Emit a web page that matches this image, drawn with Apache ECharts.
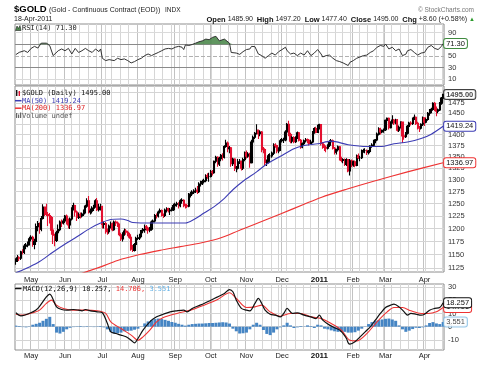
<!DOCTYPE html>
<html><head><meta charset="utf-8">
<script src="https://cdn.jsdelivr.net/npm/echarts@6/dist/echarts.min.js"></script>
<style>html,body{margin:0;padding:0;background:#fff}#c{width:482px;height:370px}</style>
</head><body><div id="c"></div>
<script>
// ---------- data ----------
const startDate = '2010-04-20', endDate = '2011-04-18';
const holidays = ['2010-05-31','2010-07-05','2010-09-06','2010-11-25','2010-12-24','2011-01-17','2011-02-21'];
const monthNames = ['Jan','Feb','Mar','Apr','May','Jun','Jul','Aug','Sep','Oct','Nov','Dec'];
// daily bars: [open, high, low, close]
const priceBars = [
[1137,1143,1131,1140],[1140,1149,1136,1144],[1144,1147,1138,1143],[1143,1157,1140,1155],[1155,1160,1150,1154],
[1154,1170,1151,1166],[1166,1172,1160,1168],[1168,1175,1164,1169],[1169,1184,1167,1180],[1180,1187,1175,1183],
[1183,1186,1165,1169],[1169,1180,1160,1175],[1175,1210,1172,1204],[1204,1215,1195,1210],[1210,1212,1190,1199],
[1199,1225,1195,1220],[1220,1249,1218,1243],[1243,1244,1225,1230],[1230,1250,1225,1228],[1228,1233,1205,1226],
[1226,1231,1210,1222],[1222,1225,1188,1197],[1197,1200,1170,1187],[1187,1190,1166,1177],[1177,1196,1174,1192],
[1192,1208,1186,1198],[1198,1216,1195,1213],[1213,1218,1203,1211],[1211,1220,1208,1215],[1215,1227,1211,1225],
[1225,1228,1208,1217],[1217,1220,1200,1207],[1207,1222,1199,1219],[1219,1243,1216,1240],[1240,1252,1236,1246],
[1246,1248,1224,1233],[1233,1236,1215,1222],[1222,1232,1219,1228],[1228,1232,1220,1225],[1225,1232,1222,1229],
[1229,1238,1225,1233],[1233,1248,1230,1245],[1245,1261,1242,1256],[1256,1266,1230,1233],[1233,1240,1228,1235],
[1235,1245,1230,1241],[1241,1248,1235,1244],[1244,1259,1242,1256],[1256,1262,1235,1238],[1238,1250,1234,1243],
[1243,1250,1236,1244],[1244,1246,1200,1208],[1208,1214,1200,1210],[1210,1213,1190,1195],[1195,1200,1188,1194],
[1194,1208,1190,1205],[1205,1214,1200,1209],[1209,1212,1195,1198],[1198,1216,1196,1213],[1213,1216,1205,1211],
[1211,1214,1203,1207],[1207,1210,1185,1188],[1188,1192,1176,1180],[1180,1193,1175,1191],[1191,1200,1186,1195],
[1195,1199,1188,1193],[1193,1196,1185,1188],[1188,1192,1180,1183],[1183,1186,1157,1160],[1160,1168,1155,1158],
[1158,1172,1156,1169],[1169,1184,1165,1181],[1181,1188,1178,1182],[1182,1190,1178,1185],[1185,1198,1183,1196],
[1196,1201,1191,1198],[1198,1208,1192,1204],[1204,1207,1196,1201],[1201,1204,1190,1197],[1197,1203,1193,1199],
[1199,1216,1196,1213],[1213,1218,1209,1215],[1215,1229,1212,1226],[1226,1230,1220,1225],[1225,1236,1222,1233],
[1233,1240,1230,1236],[1236,1238,1224,1227],[1227,1230,1221,1226],[1226,1240,1223,1237],[1237,1243,1232,1240],
[1240,1242,1232,1236],[1236,1241,1227,1237],[1237,1243,1234,1238],[1238,1250,1235,1246],[1246,1252,1242,1249],
[1249,1254,1244,1250],[1250,1253,1240,1246],[1246,1259,1243,1256],[1256,1261,1250,1257],[1257,1259,1243,1248],
[1248,1250,1240,1246],[1246,1250,1241,1245],[1245,1272,1243,1268],[1268,1275,1263,1270],[1270,1278,1266,1274],
[1274,1280,1270,1276],[1276,1283,1272,1278],[1278,1287,1270,1275],[1275,1295,1272,1291],[1291,1298,1286,1292],
[1292,1300,1289,1296],[1296,1302,1292,1298],[1298,1312,1295,1309],[1309,1314,1302,1307],[1307,1315,1296,1307],
[1307,1321,1305,1317],[1317,1321,1309,1315],[1315,1342,1313,1340],[1340,1352,1336,1349],[1349,1351,1328,1334],
[1334,1350,1330,1346],[1346,1356,1340,1353],[1353,1358,1342,1349],[1349,1376,1346,1373],[1373,1388,1370,1381],
[1381,1384,1360,1368],[1368,1374,1358,1370],[1370,1372,1328,1335],[1335,1348,1330,1345],[1345,1347,1319,1325],
[1325,1330,1316,1325],[1325,1345,1322,1339],[1339,1345,1334,1340],[1340,1342,1320,1325],[1325,1348,1321,1344],
[1344,1362,1340,1359],[1359,1364,1346,1351],[1351,1360,1348,1356],[1356,1359,1326,1337],[1337,1388,1335,1383],
[1383,1398,1378,1394],[1394,1406,1390,1403],[1403,1424,1400,1410],[1410,1412,1390,1402],[1402,1410,1396,1406],
[1406,1408,1360,1367],[1367,1372,1358,1366],[1366,1369,1330,1337],[1337,1344,1330,1338],[1338,1356,1335,1352],
[1352,1358,1345,1352],[1352,1362,1348,1358],[1358,1380,1354,1376],[1376,1380,1370,1375],[1375,1377,1358,1363],
[1363,1371,1358,1366],[1366,1390,1363,1386],[1386,1392,1382,1388],[1388,1393,1381,1388],[1388,1410,1385,1406],
[1406,1427,1402,1424],[1424,1432,1396,1400],[1400,1404,1380,1385],[1385,1396,1380,1393],[1393,1396,1380,1384],
[1384,1396,1381,1393],[1393,1407,1390,1404],[1404,1406,1384,1387],[1387,1390,1368,1372],[1372,1382,1369,1379],
[1379,1389,1376,1386],[1386,1392,1382,1388],[1388,1391,1380,1387],[1387,1390,1375,1380],[1380,1388,1378,1383],
[1383,1408,1380,1405],[1405,1417,1402,1414],[1414,1418,1403,1405],[1405,1423,1404,1421],[1421,1425,1412,1423],
[1423,1424,1375,1379],[1379,1383,1368,1373],[1373,1378,1363,1371],[1371,1375,1360,1369],[1369,1378,1366,1376],
[1376,1387,1372,1384],[1384,1390,1380,1386],[1386,1389,1366,1369],[1369,1372,1355,1360],[1360,1368,1355,1366],
[1366,1375,1362,1372],[1372,1374,1342,1345],[1345,1350,1338,1342],[1342,1347,1336,1344],[1344,1346,1330,1333],
[1333,1347,1330,1344],[1344,1345,1316,1319],[1319,1345,1309,1341],[1341,1344,1327,1332],[1332,1342,1328,1339],
[1339,1342,1327,1331],[1331,1355,1329,1352],[1352,1357,1345,1348],[1348,1352,1340,1348],[1348,1366,1345,1363],
[1363,1368,1359,1364],[1364,1369,1358,1364],[1364,1366,1354,1360],[1360,1365,1355,1362],[1362,1376,1358,1374],
[1374,1380,1370,1376],[1376,1388,1373,1385],[1385,1390,1380,1388],[1388,1405,1385,1401],[1401,1417,1398,1414],
[1414,1416,1400,1406],[1406,1412,1403,1410],[1410,1414,1404,1411],[1411,1435,1408,1433],[1433,1440,1427,1438],
[1438,1440,1412,1416],[1416,1431,1414,1428],[1428,1445,1425,1434],[1434,1436,1422,1427],[1427,1437,1424,1434],
[1434,1436,1407,1410],[1410,1421,1406,1417],[1417,1431,1414,1429],[1429,1430,1381,1397],[1397,1400,1388,1395],
[1395,1406,1392,1403],[1403,1422,1400,1419],[1419,1430,1416,1427],[1427,1431,1421,1426],[1426,1440,1422,1438],
[1438,1447,1434,1440],[1440,1442,1422,1426],[1426,1430,1412,1417],[1417,1420,1406,1415],[1415,1426,1412,1424],
[1424,1442,1420,1439],[1439,1440,1420,1429],[1429,1438,1426,1435],[1435,1453,1432,1450],[1450,1460,1444,1455],
[1455,1463,1450,1459],[1459,1476,1456,1474],[1474,1477,1455,1464],[1464,1466,1443,1455],[1455,1461,1450,1458],
[1458,1477,1455,1474],[1474,1489,1470,1486.4],[1485.9,1497.2,1477.4,1495]
];
// moving averages: [bar index, value]
const ma50Points = [[0,1116],[8,1127],[14,1137],[22,1155],[30,1172],[36,1184],[44,1201],[50,1211],[56,1218],[62,1219],[66,1216],[69,1212],[81,1211],[100,1211],[105,1218],[111,1231],[117,1244],[123,1261],[128,1279],[134,1297],[142,1317],[148,1334],[156,1351],[164,1368],[170,1375],[178,1379],[186,1385],[196,1377],[207,1373],[215,1373],[223,1379],[231,1383],[239,1391],[245,1401],[252,1419.24]];
const ma200Points = [[36,1112],[50,1127],[60,1139],[73,1150],[85,1158],[97,1165],[109,1172],[121,1182],[132,1197],[142,1210],[156,1229],[170,1249],[180,1263],[195,1280],[211,1297],[231,1317],[252,1336.97]];
// RSI(14): [bar index, value]
const rsiPoints = [[0,52.3],[2,56.2],[5,59],[7,56],[9,63],[11,66.5],[13,63.6],[15,72],[16,74.4],[18,72],[20,67.6],[22,50.6],[23,48.3],[25,59],[27,62],[29,59],[31,63],[33,53.4],[35,63],[37,56],[39,59],[41,63],[43,59],[45,56],[47,62],[49,57.4],[50,62],[51,46],[53,42],[55,43.7],[58,42],[60,46],[62,43.7],[64,44.9],[66,42],[68,38],[69,35.6],[70,40.3],[72,43.7],[74,46],[76,50.6],[78,53.4],[80,50.6],[82,53.4],[84,56],[86,59],[88,62],[90,63],[92,62],[94,65],[96,66.5],[98,65],[99,61],[100,69],[102,68],[104,69.7],[106,72],[108,74.4],[110,76],[112,79],[114,78],[116,82],[117,79],[118,83.8],[120,76],[121,74.4],[123,79],[124,80],[126,72],[127,56],[128,53.4],[130,55],[132,52.7],[134,57.4],[136,61],[138,62],[139,66.5],[141,66],[143,53.4],[145,50.6],[147,46],[149,50.6],[151,55],[153,51.5],[155,57.4],[157,61],[159,65],[160,59],[162,53.4],[164,55],[166,50.6],[168,55],[170,51.5],[172,59],[174,50.6],[176,55],[178,61],[180,53.4],[181,48.3],[183,50.6],[185,51.5],[187,46],[189,42],[191,40.3],[193,38],[194,34.7],[196,33.5],[197,39],[199,42],[201,46],[203,48.3],[205,50.6],[207,51.5],[209,56],[211,59],[213,65],[215,68],[217,66.5],[218,70.6],[220,62],[222,65],[224,59],[226,62],[228,50.6],[230,53],[231,59],[233,61],[235,56],[237,51.5],[239,55],[241,56],[243,65],[245,68],[247,63],[249,61],[251,66.5],[252,71.3]];
// MACD(12,26,9): [bar index, value]
const macdPoints = [[0,10.6],[3,8.3],[10,11.3],[13,13.9],[18,22.7],[20,24.8],[24,15.1],[27,13.1],[30,12.6],[34,13.1],[37,12.6],[39,12.1],[41,13.1],[44,12.1],[48,11.3],[51,10.6],[54,2.4],[56,-3.9],[59,-5.2],[62,-6.4],[65,-7.7],[68,-10.3],[70,-12.3],[72,-9.0],[75,-2.6],[79,3.7],[83,7.5],[87,9.5],[91,11.3],[95,12.1],[99,12.6],[101,11.3],[104,13.9],[107,15.6],[111,17.7],[115,20.2],[119,22.7],[123,25.3],[126,28.3],[128,26.6],[130,20.2],[133,13.9],[136,12.6],[138,12.1],[141,17.7],[143,21.5],[145,17.7],[147,12.6],[150,9.5],[153,8.8],[156,7.5],[158,10.1],[160,13.9],[163,10.1],[166,10.6],[170,8.8],[174,7.5],[177,6.2],[179,8.8],[181,5.0],[185,1.2],[189,-1.4],[191,-2.6],[193,-5.2],[195,-9.0],[196,-12.3],[197,-13.3],[200,-11.5],[203,-7.7],[206,-3.9],[209,-0.1],[212,5.0],[215,10.1],[218,14.6],[221,16.4],[223,17.2],[226,15.1],[229,11.3],[231,8.8],[233,10.1],[236,9.5],[239,8.8],[241,9.5],[244,12.6],[247,13.9],[250,14.6],[252,18.257]];
const signalPoints = [[0,9.5],[4,8.8],[10,10.6],[14,12.6],[18,17.7],[21,20.2],[24,16.4],[28,13.9],[34,12.6],[40,12.6],[48,12.1],[53,10.1],[56,3.7],[62,-1.4],[68,-6.4],[72,-10.3],[75,-7.7],[79,-2.6],[83,3.7],[87,7.0],[95,10.1],[103,12.6],[111,16.4],[119,20.7],[126,25.8],[130,21.5],[136,14.6],[141,15.1],[145,16.4],[150,11.3],[156,8.0],[162,10.1],[168,10.1],[174,7.5],[180,6.2],[186,2.4],[192,-2.6],[197,-10.3],[201,-10.8],[207,-5.2],[213,3.7],[219,11.3],[223,14.6],[228,14.6],[233,12.1],[239,10.1],[243,10.1],[248,11.3],[252,14.706]];
// MACD histogram, one value every histStep bars
const histStep = 2;
const histValues = [0.8,0.5,-0.3,-0.5,0.3,1.5,2.2,3.0,4.5,6.0,7.5,2.0,-4.5,-5.2,-3.9,-2.0,-0.8,-0.3,0.3,0.5,-0.3,0.4,0.2,-0.3,0.3,0.5,-0.5,-2.0,-4.0,-5.2,-5.0,-4.5,-3.5,-3.2,-3.0,-2.3,-1.5,0.2,2.5,4.0,5.0,5.8,6.2,5.8,5.2,4.5,3.6,3.0,2.2,1.5,0.8,1.5,2.0,2.2,2.4,2.4,2.6,2.8,2.8,3.0,3.2,3.4,3.2,2.4,-1.5,-3.5,-5.2,-5.0,-4.5,-2.0,1.5,3.0,1.5,-2.5,-5.5,-6.4,-4.5,-2.0,-0.5,1.0,3.0,1.0,-1.0,-0.5,0.5,0.2,1.0,0.5,-1.0,1.5,1.0,-1.5,-2.0,-2.8,-3.5,-3.9,-4.0,-3.9,-4.5,-4.5,-4.2,-3.0,-1.5,0.2,2.0,3.5,4.5,5.0,5.5,6.0,6.2,5.5,4.5,1.0,-2.0,-3.9,-3.0,-1.8,-0.8,-1.0,-0.5,1.0,2.8,3.5,2.5,2.0,3.551];
const priceTicks = [1125,1150,1175,1200,1225,1250,1275,1300,1325,1350,1375,1400,1425,1450,1475,1500];
const rsiTicks = [10,30,50,70,90];
const macdTicks = [-10,0,10,20,30];

// ---------- build ----------
const FONT = '"Liberation Sans", Arial, sans-serif';
const MONO = '"DejaVu Sans Mono", monospace';
const fmt = d => d.toISOString().slice(0,10);
const dates = [];
for (let d = new Date(startDate+'T00:00:00Z'); fmt(d) <= endDate; d.setUTCDate(d.getUTCDate()+1)) {
  const wd = d.getUTCDay(); if (wd === 0 || wd === 6) continue;
  const s = fmt(d); if (holidays.includes(s)) continue;
  dates.push(s);
}
const wdOf = s => new Date(s+'T00:00:00Z').getUTCDay();
const weekStart = dates.map((s,i) => i > 0 && wdOf(s) < wdOf(dates[i-1]));
const monthStart = dates.map((s,i) => i > 0 && s.slice(5,7) !== dates[i-1].slice(5,7));
const N = dates.length;
const last = priceBars[priceBars.length-1];
const prevClose = priceBars[priceBars.length-2][3];
const chg = last[3]-prevClose;
const lastRsi = rsiPoints[rsiPoints.length-1][1];
const lastMa50 = ma50Points[ma50Points.length-1][1];
const lastMa200 = ma200Points[ma200Points.length-1][1];
const lastMacd = macdPoints[macdPoints.length-1][1];
const lastSig = signalPoints[signalPoints.length-1][1];
const lastHist = histValues[histValues.length-1];
const lastDate = new Date(dates[N-1]+'T00:00:00Z');
const dateText = lastDate.getUTCDate()+'-'+monthNames[lastDate.getUTCMonth()]+'-'+lastDate.getUTCFullYear();

const GL = 15, GW = 429;
const grids = [
  {left:GL, top:24, width:GW, height:61},
  {left:GL, top:86, width:GW, height:186},
  {left:GL, top:284, width:GW, height:66}
].map(g => Object.assign(g, {show:true, borderColor:'#8e8e8e', borderWidth:1, backgroundColor:'#fff'}));

const monthLabel = {
  show:true, fontSize:7.5, fontFamily:FONT, color:'#222', margin:4,
  interval:(i)=>monthStart[i],
  formatter:(v)=>{ const m = +v.slice(5,7); return m === 1 ? '{b|'+v.slice(0,4)+'}' : monthNames[m-1]; },
  rich:{b:{fontWeight:'bold', fontSize:8, fontFamily:FONT, color:'#111'}}
};
const xAxes = [];
[0,1,2].forEach(g => {
  xAxes.push({type:'category', gridIndex:g, data:dates, boundaryGap:true, position:'bottom',
    axisLine:{show:false}, axisTick:{show:false},
    axisLabel: g === 0 ? {show:false} : Object.assign({}, monthLabel, {margin: g===1?4:2}),
    splitLine:{show:true, interval:(i)=>weekStart[i], lineStyle:{color:'#d6d6d6', width:1}}});
  xAxes.push({type:'category', gridIndex:g, data:dates, boundaryGap:true, position:'top',
    axisLine:{show:false}, axisTick:{show:false}, axisLabel:{show:false},
    splitLine:{show:true, interval:(i)=>monthStart[i], lineStyle:{color:'#c2c2c2', width:1}}});
});
const hiddenY = {axisLine:{show:false}, axisTick:{show:false}, axisLabel:{show:false}, splitLine:{show:false}, position:'right'};
const yAxes = [
  Object.assign({type:'value', gridIndex:0, min:0, max:105}, hiddenY),
  Object.assign({type:'log', logBase:10, gridIndex:1, min:1117.6, max:1516.1}, hiddenY),
  Object.assign({type:'value', gridIndex:2, min:-17.74, max:32.51}, hiddenY)
];

function gridLines(values, labelFn, styleFn) {
  return {silent:true, symbol:['none','none'], z:1, animation:false,
    label:{show:true, position:'end', distance:4, fontSize:7.5, fontFamily:FONT, color:'#333', formatter:p=>labelFn(p.value)},
    lineStyle:{color:'#d4d4d4', width:1, type:'solid'},
    emphasis:{disabled:true},
    data: values.map(v => { const o = {yAxis:v}; const s = styleFn && styleFn(v); if (s) o.lineStyle = s; return o; })};
}
function boxLabel(color, text, bold) {
  return {show:true, formatter:()=>text, fontSize:7.5, fontFamily:FONT, fontWeight: bold?'bold':'normal',
    color:'#111', backgroundColor:'#fff', borderColor:color, borderWidth:1, borderRadius:2, padding:[1,2,0,2], distance:1};
}

const BLUE = '#3c3cb4', RED = '#ee3333', GREEN = '#4e8a4e', HIST = '#4585c4';
const series = [
  // RSI fill above 70
  {type:'line', xAxisIndex:0, yAxisIndex:0, data: rsiPoints.map(([i,v]) => [i, Math.max(v,70)]), symbol:'none',
   lineStyle:{width:0}, areaStyle:{color:GREEN, opacity:0.9, origin:70}, z:2, silent:true},
  {type:'line', xAxisIndex:0, yAxisIndex:0, data: rsiPoints, symbol:'none', lineStyle:{color:'#333', width:1}, z:3,
   markLine: gridLines(rsiTicks, v=>v, v => v===30||v===70 ? {color:'#8a8a8a', width:1, type:'solid'} : v===50 ? {color:'#b0b0b0', width:1, type:'dashed'} : {color:'#dadada', width:1}),
   endLabel: boxLabel('#3f8a3f', lastRsi.toFixed(2))},
  // price
  {type:'candlestick', xAxisIndex:2, yAxisIndex:1, data: priceBars.map(b => [b[0], b[3], b[2], b[1]]), barWidth:1.6, z:3,
   itemStyle:{color:'#000', color0:'#e3102f', borderColor:'#000', borderColor0:'#e3102f', borderWidth:1.1}},
  {type:'line', xAxisIndex:2, yAxisIndex:1, data: ma50Points, smooth:0.3, symbol:'none', lineStyle:{color:BLUE, width:1.1}, z:4,
   endLabel: boxLabel(BLUE, lastMa50.toFixed(2))},
  {type:'line', xAxisIndex:2, yAxisIndex:1, data: ma200Points, smooth:0.3, symbol:'none', lineStyle:{color:RED, width:1.1}, z:4,
   markLine: gridLines(priceTicks, v => v >= 1500 ? '' : v),
   endLabel: boxLabel(RED, lastMa200.toFixed(2))},
  {type:'scatter', xAxisIndex:2, yAxisIndex:1, data:[[N-1, last[3]]], symbolSize:0, z:6, silent:true,
   label: Object.assign(boxLabel('#111', last[3].toFixed(2), true), {position:'right'})},
  // MACD
  {type:'bar', xAxisIndex:4, yAxisIndex:2, data: histValues.map((v,k) => [k*histStep, v]), barWidth:3, itemStyle:{color:HIST}, z:2,
   markLine: gridLines(macdTicks, v=>v)},
  {type:'line', xAxisIndex:4, yAxisIndex:2, data: signalPoints, smooth:0.3, symbol:'none', lineStyle:{color:RED, width:1.1}, z:4,
   endLabel: boxLabel(RED, lastSig.toFixed(3))},
  {type:'line', xAxisIndex:4, yAxisIndex:2, data: macdPoints, smooth:0.3, symbol:'none', lineStyle:{color:'#111', width:1.2}, z:5,
   endLabel: boxLabel('#111', lastMacd.toFixed(3))},
  {type:'scatter', xAxisIndex:4, yAxisIndex:2, data:[[N-1, lastHist]], symbolSize:0, z:6, silent:true,
   label: Object.assign(boxLabel('#7fbbe3', lastHist.toFixed(3)), {position:'right'})}
];

const t = (x, y, text, font, fill, extra) => ({type:'text', x, y, z:100, silent:true,
  style:Object.assign({text, font, fill: fill||'#111', verticalAlign:'middle'}, extra||{})});
const graphic = [
  t(14, 9.5, '$GOLD', 'bold 9.5px '+FONT, '#000'),
  t(49, 10, '(Gold - Continuous Contract (EOD))', '7px '+FONT, '#222'),
  t(165, 10, 'INDX', '6.5px '+FONT, '#222'),
  t(474, 10, '\u00a9 StockCharts.com', '6.5px '+FONT, '#777', {align:'right'}),
  t(14, 19.5, dateText, '7px '+FONT, '#222'),
  t(475, 19.5, '{b|Open} '+last[0].toFixed(2)+'  {b|High} '+last[1].toFixed(2)+'  {b|Low} '+last[2].toFixed(2)+'  {b|Close} '+last[3].toFixed(2)+'  {b|Chg} '+(chg>=0?'+':'')+chg.toFixed(2)+' ('+(chg>=0?'+':'')+(chg/prevClose*100).toFixed(2)+'%) {g|\u25b2}',
    '7px '+FONT, '#222', {align:'right', rich:{b:{font:'bold 7.5px '+FONT, fill:'#111'}, g:{font:'6px '+FONT, fill:'#2a9a2a'}}}),
  // RSI legend
  {type:'polygon', z:100, silent:true, shape:{points:[[15.5,30.5],[17,26],[18.5,28.5],[20,25.5],[21,30.5]]}, style:{fill:GREEN, stroke:'#222', lineWidth:0.6}},
  t(22, 27.8, 'RSI(14) '+lastRsi.toFixed(2), '7px '+MONO, '#222'),
  // main legend
  {type:'rect', z:100, silent:true, shape:{x:16, y:90, width:1.4, height:6}, style:{fill:'#111'}},
  {type:'rect', z:100, silent:true, shape:{x:18.6, y:91, width:1.4, height:5}, style:{fill:'#e3102f'}},
  t(22, 93.2, '$GOLD (Daily) '+last[3].toFixed(2), '7px '+MONO, '#111'),
  {type:'line', z:100, silent:true, shape:{x1:15, y1:100.7, x2:21.5, y2:100.7}, style:{stroke:BLUE, lineWidth:1.5}},
  t(22, 100.7, 'MA(50) '+lastMa50.toFixed(2), '7px '+MONO, BLUE),
  {type:'line', z:100, silent:true, shape:{x1:15, y1:108.2, x2:21.5, y2:108.2}, style:{stroke:RED, lineWidth:1.5}},
  t(22, 108.2, 'MA(200) '+lastMa200.toFixed(2), '7px '+MONO, '#dd2222'),
  {type:'rect', z:100, silent:true, shape:{x:16, y:113, width:1.2, height:5}, style:{fill:'#666'}},
  {type:'rect', z:100, silent:true, shape:{x:18, y:114.5, width:1.2, height:3.5}, style:{fill:'#666'}},
  {type:'rect', z:100, silent:true, shape:{x:20, y:112.5, width:1.2, height:5.5}, style:{fill:'#666'}},
  t(22, 115.7, 'Volume undef', '7px '+MONO, '#555'),
  // MACD legend
  {type:'line', z:100, silent:true, shape:{x1:15, y1:288.5, x2:21.5, y2:288.5}, style:{stroke:'#111', lineWidth:1.5}},
  t(23, 288.7, '{k|MACD(12,26,9) '+lastMacd.toFixed(3)+', }{r|'+lastSig.toFixed(3)+', }{c|'+lastHist.toFixed(3)+'}', '7px '+MONO, '#111',
    {rich:{k:{font:'7px '+MONO, fill:'#111'}, r:{font:'7px '+MONO, fill:'#ee3333'}, c:{font:'7px '+MONO, fill:'#5fb0e6'}}})
];

const chart = echarts.init(document.getElementById('c'), null, {renderer:'canvas'});
chart.setOption({
  animation:false,
  backgroundColor:'#fff',
  grid: grids,
  xAxis: xAxes,
  yAxis: yAxes,
  series,
  graphic
});
</script></body></html>
